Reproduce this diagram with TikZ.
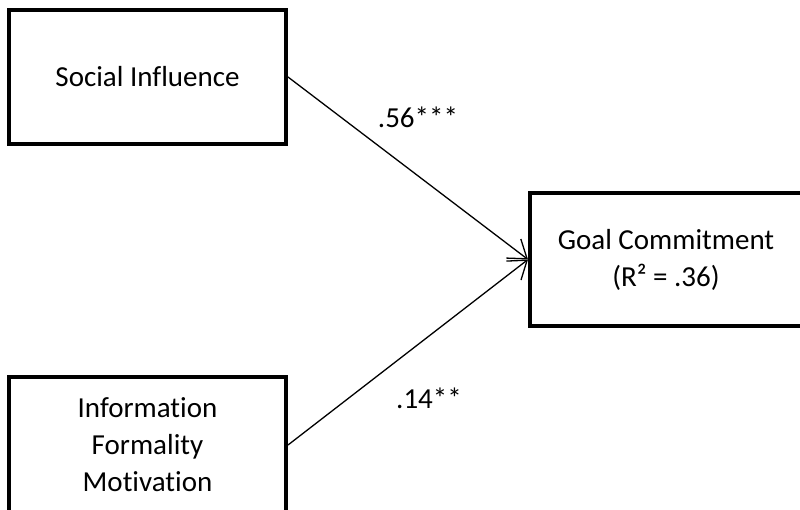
\documentclass[tikz,border=0pt]{standalone}
\usepackage{fontspec}
\setmainfont{Carlito}[Ligatures=CommonOff]
\usetikzlibrary{arrows.meta}
\begin{document}
\begin{tikzpicture}[x=1pt,y=-1pt,
  varbox/.style={draw, line width=4pt, inner sep=0pt, align=center,
    font=\fontsize{29}{37}\selectfont},
  path/.style={line width=1.3pt, -{Straight Barb[length=17pt,width=24pt,line width=1.3pt]}},
  coef/.style={font=\fontsize{29}{37}\selectfont}]
\useasboundingbox (0,0) rectangle (800,510);
\clip (0,0) rectangle (800,510);
\fill[white] (0,0) rectangle (800,510);
\node[varbox, minimum width=277pt, minimum height=134pt] (si) at (147.5,77) {Social Influence};
\node[varbox, minimum width=272pt, minimum height=133pt] (gc) at (666,259.5) {Goal Commitment\\(R² = .36)};
\node[varbox, minimum width=277pt, minimum height=136pt] (ifm) at (147.5,445) {Information\\Formality\\Motivation};
\draw[path] (si.east) -- (gc.west);
\draw[path] (ifm.east) -- (gc.west);
\node[coef] (c1) at (418,117) {.56***};
\node[coef] (c2) at (429,398) {.14**};
\end{tikzpicture}
\end{document}
